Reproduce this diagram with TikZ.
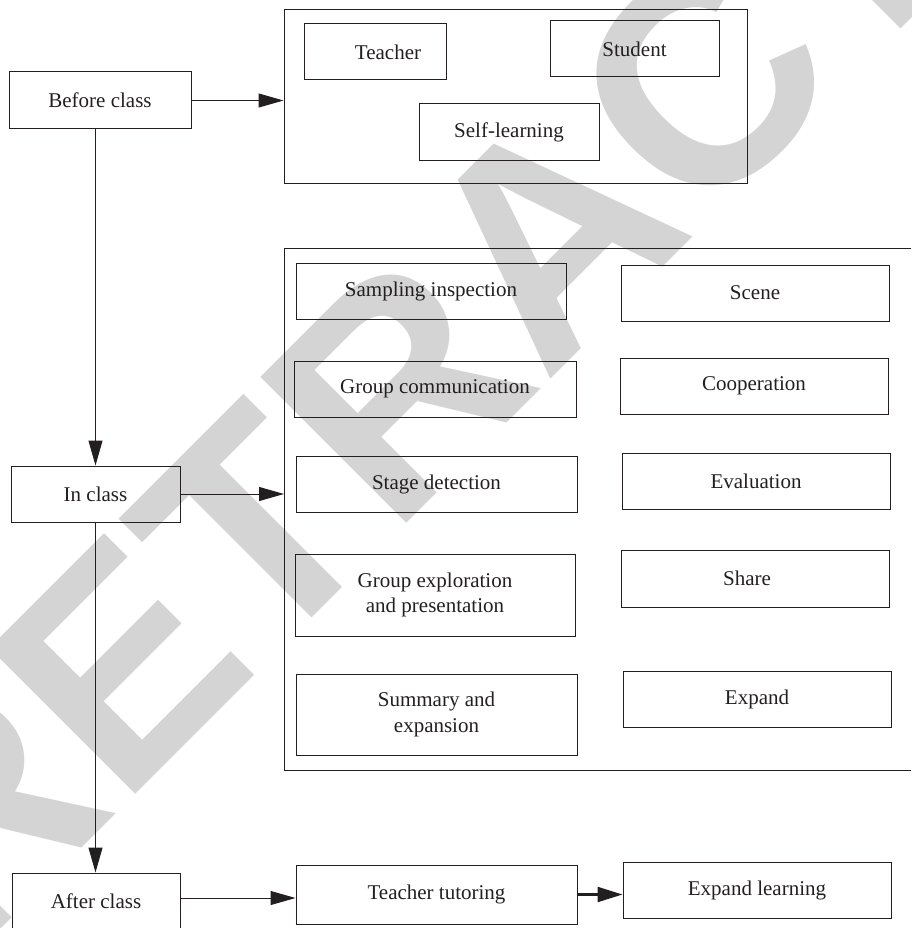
\documentclass[tikz,border=0pt]{standalone}
\usepackage{fontspec}
\setmainfont{Liberation Serif}
\newfontfamily\wmfont{Liberation Sans}
\usetikzlibrary{arrows.meta}
\definecolor{ink}{RGB}{35,31,32}
\definecolor{wm}{RGB}{212,212,212}
\tikzset{
  box/.style={draw=ink, line width=1pt, inner sep=0pt, text=ink, align=center,
    font=\fontsize{21}{25.5}\selectfont},
  arr/.style={draw=ink, line width=1pt, -{Triangle[length=25pt,width=14pt]}},
  thickarr/.style={draw=ink, line width=2.2pt, -{Triangle[length=25pt,width=15pt]}},
  frame/.style={draw=ink, line width=1pt}
}
\begin{document}
\begin{tikzpicture}[x=1pt,y=-1pt]
\useasboundingbox (0,0) rectangle (911,928);
% watermark
\node[rotate=45, text=wm, inner sep=0pt, font=\wmfont\bfseries\fontsize{300}{300}\selectfont] (wmark) at (549,235) {RETRACTED};
% before class group
\node[box, minimum width=182pt, minimum height=57pt] (before) at (100,100.5) {Before class};
\node[frame, inner sep=0pt, minimum width=463pt, minimum height=174pt] (pre) at (515.5,97) {};
\node[box, minimum width=142pt, minimum height=56pt] (teacher) at (375,52) {\hspace*{26pt}Teacher};
\node[box, minimum width=169pt, minimum height=56pt] (student) at (634.5,49) {Student};
\node[box, minimum width=180pt, minimum height=57pt] (self) at (509,132.5) {Self-learning};
% in class group
\node[box, minimum width=169pt, minimum height=56pt] (inclass) at (95.5,494) {In class};
\coordinate (midL) at (284,248);
\draw[frame] (911,248) -- (midL) -- (284,770) -- (911,770);
\node[box, minimum width=270pt, minimum height=56pt] (sampling) at (431,291) {Sampling inspection};
\node[box, minimum width=268pt, minimum height=56pt] (scene) at (755,293) {Scene};
\node[box, minimum width=282pt, minimum height=56pt] (groupcomm) at (435,389) {Group communication};
\node[box, minimum width=268pt, minimum height=56pt] (coop) at (754,386) {Cooperation};
\node[box, minimum width=281pt, minimum height=56pt] (stage) at (436.5,484) {Stage detection};
\node[box, minimum width=268pt, minimum height=56pt] (eval) at (756,481) {Evaluation};
\node[box, minimum width=280pt, minimum height=82pt] (explore) at (435,595) {Group exploration\\and presentation};
\node[box, minimum width=268pt, minimum height=57pt] (share) at (755,578.5) {Share\hspace*{16pt}};
\node[box, minimum width=281pt, minimum height=81pt] (summary) at (436.5,714.5) {Summary and\\expansion};
\node[box, minimum width=268pt, minimum height=56pt] (expand) at (757,699) {Expand};
% after class group
\node[box, minimum width=168pt, minimum height=56pt] (after) at (96,901) {After class};
\node[box, minimum width=281pt, minimum height=59pt] (tutor) at (436.5,894.5) {Teacher tutoring};
\node[box, minimum width=268pt, minimum height=56pt] (explearn) at (757,890) {Expand learning};
% connectors
\draw[arr] (before.east) -- (before.east -| pre.west);
\draw[arr] (inclass.north |- before.south) -- (inclass.north);
\draw[arr] (inclass.east) -- (inclass.east -| midL);
\draw[arr] (inclass.south) -- (inclass.south |- after.north);
\draw[arr] ([yshift=3pt]after.east) -- ([yshift=3pt]after.east -| tutor.west);
\draw[thickarr] (tutor.east) -- (tutor.east -| explearn.west);
\end{tikzpicture}
\end{document}
